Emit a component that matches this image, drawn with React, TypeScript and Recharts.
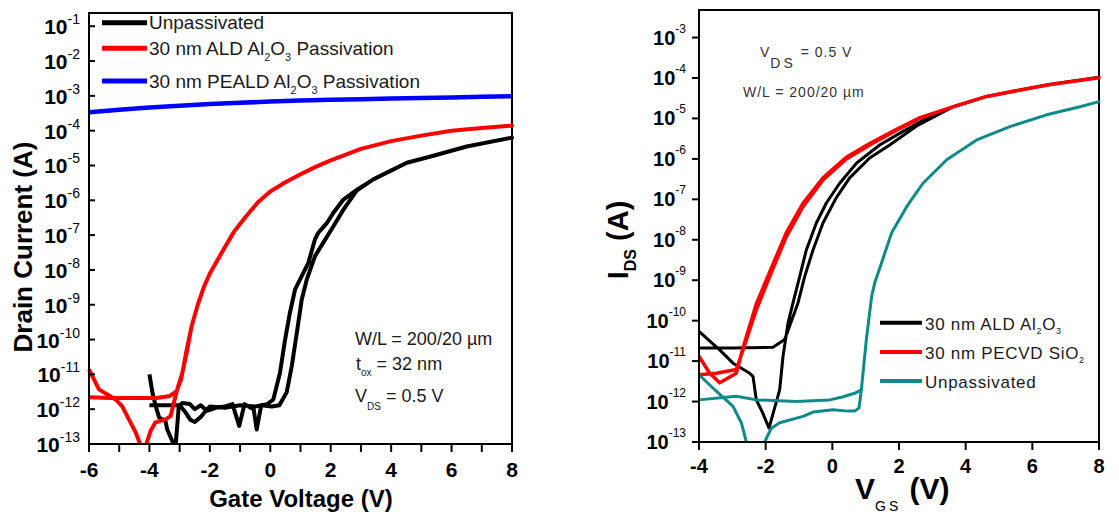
import React from 'react'
import { LineChart, Line, XAxis, YAxis, ReferenceArea } from 'recharts'

const FONT = '"Liberation Sans", Arial, Helvetica, sans-serif'

// ---- left panel: gate voltage (V) vs drain current (A) ----
const leftXTicks = [-6, -5, -4, -3, -2, -1, 0, 1, 2, 3, 4, 5, 6, 7, 8]
const leftYTicks = [1e-13, 1e-12, 1e-11, 1e-10, 1e-9, 1e-8, 1e-7, 1e-6, 1e-5, 1e-4, 1e-3, 1e-2, 1e-1]

const leftUnpassivated: [number, number][] = [
  [-4.0, 1.0e-11], [-3.9, 3.0e-12], [-3.79, 1.2e-12], [-3.68, 5.8e-13], [-3.47, 4.6e-13],
  [-3.41, 2.6e-13], [-3.24, 1.2e-13], [-3.15, 6e-14], [-3.08, 3.3e-13], [-3.03, 1.2e-12],
  [-2.91, 1.5e-12], [-2.66, 1.4e-12], [-2.5, 1.0e-12], [-2.3, 1.3e-12], [-2.1, 9e-13],
  [-1.8, 1.1e-12], [-1.5, 1.2e-12], [-1.25, 1.4e-12], [-1.03, 3.3e-13], [-0.85, 1.4e-12],
  [-0.65, 1.1e-12], [-0.55, 1.0e-12], [-0.45, 2.6e-13], [-0.3, 1.3e-12], [0.05, 1.2e-12],
  [0.3, 1.3e-12], [0.54, 3.0e-12], [0.71, 1.7e-11], [0.88, 1.6e-10], [1.04, 1.4e-9],
  [1.21, 5.4e-9], [1.48, 2.5e-8], [1.76, 6.2e-8], [2.09, 1.8e-7], [2.42, 5.4e-7],
  [2.86, 1.9e-6], [3.41, 4.0e-6], [3.96, 6.9e-6], [4.52, 1.2e-5], [5.4, 1.9e-5],
  [6.5, 3.5e-5], [8.0, 6.3e-5],
  [6.5, 3.5e-5], [5.4, 1.9e-5], [4.52, 1.2e-5], [3.96, 6.9e-6], [3.41, 4.0e-6],
  [2.86, 2.0e-6], [2.42, 1.05e-6], [2.09, 4.4e-7], [1.87, 2.2e-7], [1.59, 1.17e-7],
  [1.48, 7.6e-8], [1.26, 1.6e-8], [1.04, 6.6e-9], [0.82, 2.75e-9], [0.65, 5.9e-10],
  [0.49, 1.0e-10], [0.32, 1.1e-11], [0.1, 1.9e-12], [-0.1, 1.4e-12], [-0.5, 1.2e-12],
  [-1.0, 1.3e-12], [-1.5, 1.1e-12], [-2.0, 1.2e-12], [-2.14, 8.9e-13], [-2.3, 6e-13],
  [-2.5, 4.3e-13], [-2.65, 5e-13], [-2.8, 8e-13], [-3.0, 1.3e-12], [-3.6, 1.3e-12],
  [-4.0, 1.3e-12],
]

const leftAld: [number, number][] = [
  [-6.0, 1.4e-11], [-5.67, 3.7e-12], [-5.12, 1.9e-12], [-4.9, 1.2e-12], [-4.68, 5.1e-13],
  [-4.45, 2.1e-13], [-4.29, 9e-14], [-4.2, 5e-14], [-4.12, 9e-14], [-3.96, 2.4e-13],
  [-3.8, 4.2e-13], [-3.47, 5.1e-13], [-3.3, 6.3e-13], [-3.19, 1.55e-12], [-3.08, 3.7e-12],
  [-2.91, 1.1e-11], [-2.75, 5.0e-11], [-2.6, 2.5e-10], [-2.4, 1.0e-9], [-2.2, 3.2e-9],
  [-2.0, 7.9e-9], [-1.6, 3.2e-8], [-1.2, 1.26e-7], [-0.8, 3.5e-7], [-0.4, 8.9e-7],
  [0, 1.8e-6], [0.5, 3.3e-6], [1, 5.6e-6], [1.5, 9.1e-6], [2, 1.4e-5], [3, 3.0e-5],
  [4, 5.0e-5], [5, 7.2e-5], [6, 1.0e-4], [7, 1.2e-4], [8, 1.4e-4],
  [7, 1.2e-4], [6, 1.0e-4], [5, 7.2e-5], [4, 5.0e-5], [3, 3.0e-5], [2, 1.4e-5],
  [1.5, 9.1e-6], [1, 5.6e-6], [0.5, 3.3e-6], [0, 1.8e-6], [-0.4, 8.9e-7], [-0.8, 3.5e-7],
  [-1.2, 1.26e-7], [-1.6, 3.2e-8], [-2.0, 7.9e-9], [-2.2, 3.2e-9], [-2.4, 1.0e-9],
  [-2.6, 2.5e-10], [-2.78, 4.5e-11], [-2.95, 7.2e-12], [-3.1, 3.3e-12], [-3.32, 2.4e-12],
  [-3.76, 2.1e-12], [-4.5, 2.1e-12], [-5.3, 2.1e-12], [-6.0, 2.2e-12],
]

const leftPeald: [number, number][] = [
  [-6, 3.4e-4], [-5, 4.0e-4], [-4, 4.6e-4], [-3, 5.2e-4], [-2, 5.8e-4], [-1, 6.3e-4],
  [0, 6.9e-4], [1, 7.3e-4], [2, 7.7e-4], [3, 8.0e-4], [4, 8.4e-4], [5, 8.7e-4],
  [6, 9.0e-4], [7, 9.4e-4], [8, 9.8e-4],
]

// ---- right panel: VGS (V) vs IDS (A) ----
const rightXTicks = [-4, -2, 0, 2, 4, 6, 8]
const rightYTicks = [1e-13, 1e-12, 1e-11, 1e-10, 1e-9, 1e-8, 1e-7, 1e-6, 1e-5, 1e-4, 1e-3]

const rightAld: [number, number][] = [
  [-4.0, 2.1e-11], [-3.0, 2.1e-11], [-1.78, 2.2e-11], [-1.43, 3.4e-11], [-1.03, 2.75e-10],
  [-0.83, 1.23e-9], [-0.58, 5.6e-9], [-0.28, 2.6e-8], [0.12, 1.1e-7], [0.52, 3.4e-7],
  [1.12, 1.05e-6], [1.72, 2.2e-6], [2.53, 6.5e-6], [3.63, 1.95e-5], [4.63, 3.5e-5],
  [5.6, 5.0e-5], [6.5, 6.9e-5], [8.0, 1.05e-4],
  [6.5, 6.9e-5], [5.6, 5.0e-5], [4.63, 3.5e-5], [3.63, 1.95e-5], [2.92, 1.12e-5],
  [2.12, 4.8e-6], [1.42, 2.2e-6], [0.73, 7.9e-7], [0.22, 2.5e-7], [-0.18, 8.1e-8],
  [-0.48, 2.6e-8], [-0.78, 5.6e-9], [-0.98, 1.23e-9], [-1.18, 2.75e-10], [-1.33, 8.7e-11],
  [-1.48, 1.3e-11], [-1.58, 1.95e-12], [-1.9, 2.2e-13], [-2.1, 5.5e-13], [-2.28, 1.1e-12],
  [-2.38, 4.2e-12], [-2.48, 5.0e-12], [-2.98, 8.9e-12], [-3.38, 1.9e-11], [-4.0, 5.4e-11],
]

const rightPecvd: [number, number][] = [
  [-4.0, 4.6e-12], [-3.48, 5.0e-12], [-2.88, 6.2e-12], [-2.68, 1.9e-11], [-2.28, 1.86e-10],
  [-1.88, 1.23e-9], [-1.38, 1.2e-8], [-0.88, 6.6e-8], [-0.28, 3.0e-7], [0.42, 1.0e-6],
  [1.12, 2.2e-6], [1.9, 5.0e-6], [2.63, 1.02e-5], [3.63, 1.95e-5], [4.63, 3.5e-5],
  [5.6, 5.0e-5], [6.5, 6.8e-5], [8.0, 1.02e-4],
  [6.5, 6.8e-5], [5.6, 5.0e-5], [4.63, 3.5e-5], [3.63, 1.95e-5], [2.63, 1.05e-5],
  [1.9, 5.2e-6], [1.12, 2.4e-6], [0.42, 1.1e-6], [-0.28, 3.4e-7], [-0.88, 8.0e-8],
  [-1.38, 1.5e-8], [-1.88, 1.6e-9], [-2.28, 2.6e-10], [-2.6, 3.5e-11], [-2.72, 1.6e-11],
  [-2.88, 5.0e-12], [-3.38, 2.9e-12], [-3.68, 5.0e-12], [-4.0, 1.32e-11],
]

const rightUnpassivated: [number, number][] = [
  [-4.0, 1.1e-12], [-2.88, 1.35e-12], [-2.28, 1.1e-12], [-1.08, 1.0e-12], [-0.08, 1.1e-12],
  [0.3, 1.3e-12], [0.67, 1.6e-12], [0.87, 1.95e-12], [1.02, 3.4e-11], [1.18, 4.0e-10],
  [1.27, 8.5e-10], [1.47, 2.6e-9], [1.78, 1.5e-8], [2.23, 6.6e-8], [2.72, 2.5e-7],
  [3.43, 9.5e-7], [4.33, 2.95e-6], [5.33, 6.3e-6], [6.43, 1.23e-5], [7.43, 1.95e-5],
  [8.0, 2.6e-5],
  [7.43, 1.95e-5], [6.43, 1.23e-5], [5.33, 6.3e-6], [4.33, 2.95e-6], [3.43, 9.5e-7],
  [2.72, 2.5e-7], [2.23, 6.6e-8], [1.78, 1.5e-8], [1.47, 2.6e-9], [1.27, 8.5e-10],
  [1.18, 4.0e-10], [1.02, 3.4e-11], [0.87, 1.95e-12], [0.8, 7e-13], [0.67, 5.8e-13],
  [0.47, 5.8e-13], [0.02, 6.3e-13], [-0.58, 5.5e-13], [-0.88, 4.3e-13], [-1.58, 3.0e-13],
  [-1.83, 2.2e-13], [-2.03, 1.0e-13], [-2.3, 5e-14], [-2.58, 1.0e-13], [-2.73, 3.0e-13],
  [-2.98, 7.6e-13], [-3.48, 1.8e-12], [-4.0, 4.6e-12],
]

const toPoints = (rows: [number, number][]) => rows.map(([v, i]) => ({ v, i }))

const LeftYTick = (props: any) => {
  const { x, y, payload } = props
  const exp = Math.round(Math.log10(payload.value))
  return (
    <g>
      <line x1={x} x2={x + 6} y1={y} y2={y} stroke="#000" strokeWidth={2} />
      <text x={x - 9} y={y + 8} textAnchor="end" fontFamily={FONT} fill="#000">
        <tspan fontSize={21} fontWeight="bold">10</tspan>
        <tspan fontSize={14} dy={-10}>{exp}</tspan>
      </text>
    </g>
  )
}

const LeftXTick = (props: any) => {
  const { x, y, payload } = props
  const major = payload.value % 2 === 0
  return (
    <g>
      <line x1={x} x2={x} y1={y} y2={y + 8} stroke="#000" strokeWidth={2} />
      {major && (
        <text x={x} y={y + 33} textAnchor="middle" fontFamily={FONT} fontSize={21} fontWeight="bold" fill="#000">
          {payload.value}
        </text>
      )}
    </g>
  )
}

const RightYTick = (props: any) => {
  const { x, y, payload } = props
  const exp = Math.round(Math.log10(payload.value))
  return (
    <g>
      <line x1={x - 7} x2={x} y1={y} y2={y} stroke="#000" strokeWidth={2} />
      <text x={x - 13} y={y + 7} textAnchor="end" fontFamily={FONT} fill="#000">
        <tspan fontSize={20} fontWeight="bold">10</tspan>
        <tspan fontSize={12} dy={-12}>{exp}</tspan>
      </text>
    </g>
  )
}

const RightXTick = (props: any) => {
  const { x, y, payload } = props
  return (
    <g>
      <line x1={x} x2={x} y1={y} y2={y + 8} stroke="#000" strokeWidth={2} />
      <text x={x} y={y + 31} textAnchor="middle" fontFamily={FONT} fontSize={20} fontWeight="bold" fill="#000">
        {payload.value}
      </text>
    </g>
  )
}

const axisLine = { stroke: '#000', strokeWidth: 2 }

function LeftPanel() {
  return (
    <LineChart width={560} height={516} margin={{ top: 13, right: 48, bottom: 0, left: 0 }}>
      <XAxis dataKey="v" type="number" domain={[-6, 8]} ticks={leftXTicks} interval={0}
        height={72} tickSize={0} tickMargin={0} tickLine={false} axisLine={axisLine} tick={<LeftXTick />} />
      <YAxis type="number" scale="log" domain={[1e-13, 0.24]} allowDataOverflow ticks={leftYTicks} interval={0}
        width={89} tickSize={0} tickMargin={0} tickLine={false} axisLine={axisLine} tick={<LeftYTick />} />
      <ReferenceArea x1={-6} x2={8} y1={1e-13} y2={0.24} fill="none" stroke="#000" strokeWidth={2} ifOverflow="visible" />
      <Line data={toPoints(leftUnpassivated)} dataKey="i" type="linear" stroke="#000" strokeWidth={4}
        dot={false} isAnimationActive={false} strokeLinejoin="round" />
      <Line data={toPoints(leftAld)} dataKey="i" type="linear" stroke="#ff0000" strokeWidth={4}
        dot={false} isAnimationActive={false} strokeLinejoin="round" />
      <Line data={toPoints(leftPeald)} dataKey="i" type="linear" stroke="#0000ff" strokeWidth={4.5}
        dot={false} isAnimationActive={false} strokeLinejoin="round" />
    </LineChart>
  )
}

function RightPanel() {
  return (
    <LineChart width={559} height={516} margin={{ top: 10, right: 20, bottom: 0, left: 0 }}>
      <XAxis dataKey="v" type="number" domain={[-4, 8]} ticks={rightXTicks} interval={0}
        height={74} tickSize={0} tickMargin={0} tickLine={false} axisLine={axisLine} tick={<RightXTick />} />
      <YAxis type="number" scale="log" domain={[1e-13, 0.0048]} allowDataOverflow ticks={rightYTicks} interval={0}
        width={139} tickSize={0} tickMargin={0} tickLine={false} axisLine={axisLine} tick={<RightYTick />} />
      <ReferenceArea x1={-4} x2={8} y1={1e-13} y2={0.0048} fill="none" stroke="#000" strokeWidth={2} ifOverflow="visible" />
      <Line data={toPoints(rightAld)} dataKey="i" type="linear" stroke="#000" strokeWidth={3}
        dot={false} isAnimationActive={false} strokeLinejoin="round" />
      <Line data={toPoints(rightPecvd)} dataKey="i" type="linear" stroke="#ff0000" strokeWidth={3.5}
        dot={false} isAnimationActive={false} strokeLinejoin="round" />
      <Line data={toPoints(rightUnpassivated)} dataKey="i" type="linear" stroke="#0f8a8a" strokeWidth={3}
        dot={false} isAnimationActive={false} strokeLinejoin="round" />
    </LineChart>
  )
}

function Overlay() {
  const txt = '#1a1a1a'
  return (
    <svg width={1119} height={516} style={{ position: 'absolute', left: 0, top: 0, pointerEvents: 'none' }} fontFamily={FONT}>
      {/* left axis titles */}
      <text x={32} y={247} transform="rotate(-90 32 247)" textAnchor="middle" fontSize={26} fontWeight="bold">
        Drain Current (A)
      </text>
      <text x={301} y={507} textAnchor="middle" fontSize={24} fontWeight="bold">Gate Voltage (V)</text>

      {/* left legend */}
      <line x1={102} x2={147} y1={22.7} y2={22.7} stroke="#000" strokeWidth={5} />
      <text x={149} y={29} fontSize={19} fill={txt}>Unpassivated</text>
      <line x1={102} x2={147} y1={48.3} y2={48.3} stroke="#ff0000" strokeWidth={5} />
      <text x={149} y={55} fontSize={19} fill={txt}>
        30 nm ALD Al<tspan fontSize={11} dy={6}>2</tspan><tspan dy={-6}>O</tspan>
        <tspan fontSize={11} dy={6}>3</tspan><tspan dy={-6}> Passivation</tspan>
      </text>
      <line x1={102} x2={147} y1={81} y2={81} stroke="#0000ff" strokeWidth={5} />
      <text x={149} y={88} fontSize={19} fill={txt}>
        30 nm PEALD Al<tspan fontSize={11} dy={6}>2</tspan><tspan dy={-6}>O</tspan>
        <tspan fontSize={11} dy={6}>3</tspan><tspan dy={-6}> Passivation</tspan>
      </text>

      {/* left annotation */}
      <text x={355} y={345} fontSize={18} fill={txt}>W/L = 200/20 µm</text>
      <text x={356} y={370} fontSize={18} fill={txt}>
        t<tspan fontSize={10} dy={6}>ox</tspan><tspan dy={-6}> = 32 nm</tspan>
      </text>
      <text x={355} y={402} fontSize={18} fill={txt}>
        V<tspan fontSize={10} dy={8}>DS</tspan><tspan dy={-8}> = 0.5 V</tspan>
      </text>

      {/* right axis titles */}
      <text x={628} y={240} transform="rotate(-90 628 240)" textAnchor="middle" fontSize={29} fontWeight="bold">
        I<tspan fontSize={16} dy={8}>DS</tspan><tspan dy={-8}> (A)</tspan>
      </text>
      <text x={855} y={499} fontSize={30} fontWeight="bold">
        V<tspan fontSize={14} fontWeight="normal" letterSpacing={3} dy={12}>GS</tspan><tspan dy={-12}> (V)</tspan>
      </text>

      {/* right annotation */}
      <text x={760} y={57} fontSize={14} fill="#333" letterSpacing={1}>
        V<tspan dy={11} letterSpacing={3}>DS</tspan><tspan dy={-11}> = 0.5 V</tspan>
      </text>
      <text x={743} y={97} fontSize={14} fill="#333" letterSpacing={1}>W/L = 200/20 µm</text>

      {/* right legend */}
      <line x1={880} x2={922} y1={322.7} y2={322.7} stroke="#000" strokeWidth={4} />
      <text x={925} y={330} fontSize={17} fill={txt} letterSpacing={0.7}>
        30 nm ALD Al<tspan fontSize={9} dy={4}>2</tspan><tspan dy={-4}>O</tspan>
        <tspan fontSize={9} dy={4}>3</tspan>
      </text>
      <line x1={880} x2={922} y1={352} y2={352} stroke="#ff0000" strokeWidth={4} />
      <text x={925} y={359} fontSize={17} fill={txt} letterSpacing={0.7}>
        30 nm PECVD SiO<tspan fontSize={9} dy={4}>2</tspan>
      </text>
      <line x1={880} x2={922} y1={381} y2={381} stroke="#0f8a8a" strokeWidth={4} />
      <text x={925} y={388} fontSize={17} fill={txt} letterSpacing={0.7}>Unpassivated</text>
    </svg>
  )
}

export default function App() {
  return (
    <div style={{ position: 'absolute', left: 0, top: 0, width: 1119, height: 516, background: '#fff', fontFamily: FONT }}>
      <div style={{ position: 'absolute', left: 0, top: 0 }}>
        <LeftPanel />
      </div>
      <div style={{ position: 'absolute', left: 560, top: 0 }}>
        <RightPanel />
      </div>
      <Overlay />
    </div>
  )
}
